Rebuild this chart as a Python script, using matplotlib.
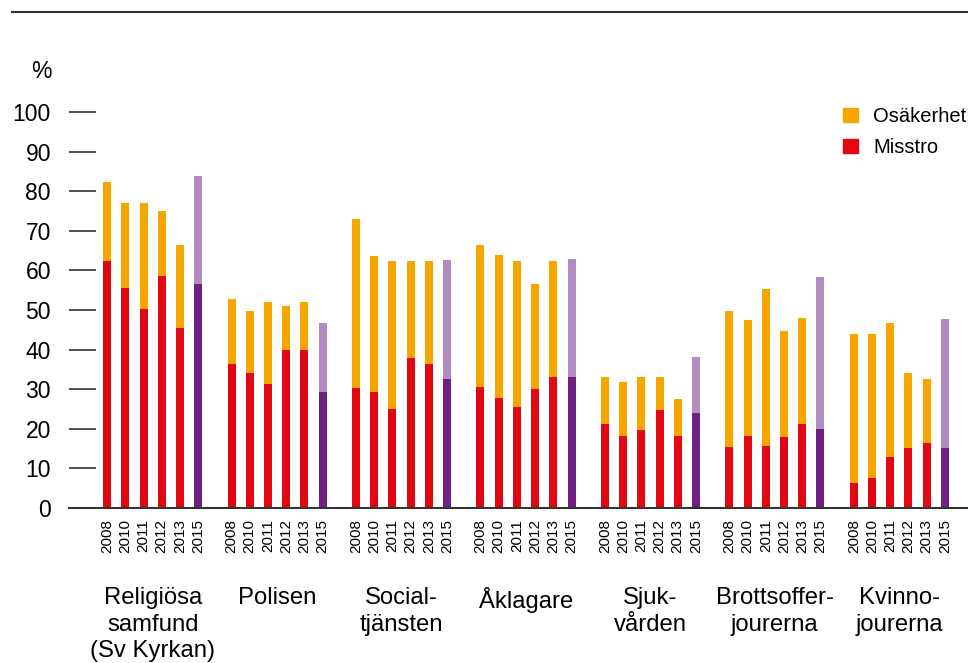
import matplotlib.pyplot as plt
from matplotlib.lines import Line2D
from matplotlib.patches import Patch
import numpy as np

# Misstro (bottom) and osäkerhet (top) per organisation and year, in percent
years = ['2008', '2010', '2011', '2012', '2013', '2015']
groups = ['Religiösa\nsamfund\n(Sv Kyrkan)', 'Polisen', 'Social-\ntjänsten', 'Åklagare',
          'Sjuk-\nvården', 'Brottsoffer-\njourerna', 'Kvinno-\njourerna']

totals = [
    [82.3, 77.0, 77.0, 74.9, 66.4, 83.9],
    [52.7, 49.7, 51.9, 51.0, 51.9, 46.8],
    [72.9, 63.6, 62.5, 62.5, 62.5, 62.6],
    [66.3, 63.9, 62.5, 56.5, 62.5, 62.8],
    [33.1, 31.8, 33.1, 33.1, 27.4, 38.1],
    [49.7, 47.6, 55.2, 44.6, 48.0, 58.4],
    [44.0, 44.0, 46.8, 34.0, 32.5, 47.7],
]
misstro = [
    [62.4, 55.6, 50.2, 58.5, 45.4, 56.6],
    [36.4, 34.1, 31.3, 39.9, 40.0, 29.3],
    [30.2, 29.3, 25.1, 38.0, 36.4, 32.7],
    [30.5, 27.7, 25.4, 30.1, 33.1, 33.1],
    [21.3, 18.3, 19.8, 24.7, 18.3, 24.1],
    [15.3, 18.3, 15.7, 18.0, 21.2, 19.9],
    [6.2, 7.7, 12.8, 15.2, 16.4, 15.2],
]

ORANGE = '#f7a600'
RED = '#e30613'
PURPLE = '#702080'
LIGHT_PURPLE = '#b28cc0'
GREY = '#333333'

plt.rcParams['font.family'] = ['Liberation Sans', 'DejaVu Sans']

W, H = 968, 663
fig = plt.figure(figsize=(W / 100, H / 100), dpi=100)

ax_left, ax_right, ax_bottom, ax_top = 69, 968, 508, 72.4
ax = fig.add_axes([ax_left / W, 1 - ax_bottom / H,
                   (ax_right - ax_left) / W, (ax_bottom - ax_top) / H])

stride = 6.83
width = 0.44
xticks, xlabels, centers = [], [], []
for g in range(len(groups)):
    xs = g * stride + np.arange(len(years))
    bottom = np.array(misstro[g])
    top = np.array(totals[g]) - bottom
    cols_b = [RED] * 5 + [PURPLE]
    cols_t = [ORANGE] * 5 + [LIGHT_PURPLE]
    ax.bar(xs, bottom, width, color=cols_b, linewidth=0)
    ax.bar(xs, top, width, bottom=bottom, color=cols_t, linewidth=0)
    xticks.extend(xs)
    xlabels.extend(years)
    centers.append(xs.mean())

ax.set_xlim(-2.09, 47.25)
ax.set_ylim(0, 110)

ax.set_xticks(xticks)
ax.set_xticklabels(xlabels, rotation=90, fontsize=11, va='top')
ax.tick_params(axis='x', length=0, pad=8)

ax.set_yticks(np.arange(0, 101, 10))
ax.tick_params(axis='y', direction='in', length=19.4, width=1.2, color=GREY,
               labelsize=16.5, pad=13)

for side in ['left', 'top', 'right']:
    ax.spines[side].set_visible(False)
ax.spines['bottom'].set_color(GREY)
ax.spines['bottom'].set_linewidth(1.5)

for c, name in zip(centers, groups):
    ax.annotate(name, xy=(c, 0), xycoords=('data', 'axes fraction'),
                xytext=(0, -(587 - ax_bottom) * 0.72), textcoords='offset points',
                ha='center', va='top', fontsize=17.2, linespacing=1.27)

fig.text(41 / W, 1 - 71 / H, '%', ha='center', va='center', fontsize=16.5)

fig.add_artist(Line2D([12 / W, 1], [1 - 12 / H, 1 - 12 / H], color=GREY, linewidth=1.5))

handles = [Patch(color=ORANGE, label='Osäkerhet'), Patch(color=RED, label='Misstro')]
fig.legend(handles=handles, loc='upper left', bbox_to_anchor=(843 / W, 1 - 107 / H),
           frameon=False, fontsize=14.5, handlelength=0.75, handleheight=0.75,
           handletextpad=0.75, labelspacing=0.6, borderpad=0, borderaxespad=0)

fig.savefig('out.png', dpi=100)
